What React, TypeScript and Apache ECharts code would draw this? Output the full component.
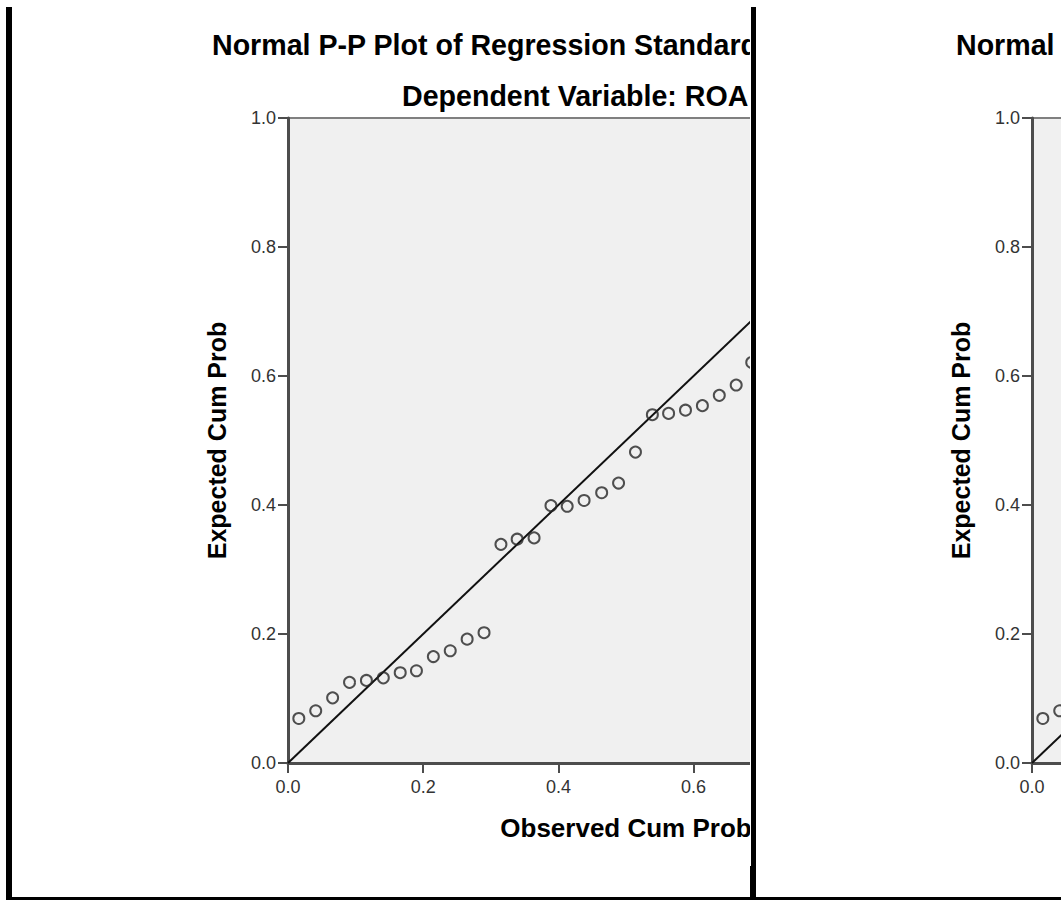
import React, { useEffect, useRef } from "react";
import * as echarts from "echarts";

// ---- Data ----
const observedCumProb = [
  0.016, 0.041, 0.066, 0.091, 0.116, 0.141, 0.166, 0.19, 0.215, 0.24, 0.265, 0.29,
  0.315, 0.339, 0.364, 0.389, 0.413, 0.438, 0.464, 0.489, 0.514, 0.539, 0.563, 0.588,
  0.613, 0.638, 0.663, 0.686,
];
const expectedCumProb = [
  0.069, 0.081, 0.101, 0.125, 0.128, 0.132, 0.14, 0.143, 0.165, 0.174, 0.192, 0.202,
  0.339, 0.347, 0.349, 0.399, 0.398, 0.407, 0.419, 0.434, 0.482, 0.54, 0.542, 0.547,
  0.554, 0.57, 0.586, 0.621,
];
const referenceLine = [
  [0, 0],
  [1, 1],
];
const axisMin = 0;
const axisMax = 1;
const axisInterval = 0.2;
const titleText = "Normal P-P Plot of Regression Standardized Residual";
const subtitleText = "Dependent Variable: ROA";
const xAxisName = "Observed Cum Prob";
const yAxisName = "Expected Cum Prob";

const FONT = '"Liberation Sans", Arial, Helvetica, sans-serif';

function buildOption(): any {
  const axisCommon = (
    name: string,
    nameSize: number,
    nameGap: number,
    labelMargin: number
  ) => ({
    type: "value",
    min: axisMin,
    max: axisMax,
    interval: axisInterval,
    name,
    nameLocation: "middle",
    nameGap,
    nameTextStyle: {
      fontFamily: FONT,
      fontSize: nameSize,
      fontWeight: "bold",
      color: "#000",
    },
    axisLine: { show: true, lineStyle: { color: "#4d4d4d", width: 3 } },
    axisTick: { show: true, length: 10, lineStyle: { color: "#4d4d4d", width: 2 } },
    axisLabel: {
      margin: labelMargin,
      fontFamily: FONT,
      fontSize: 18,
      color: "#333",
      formatter: (v: number) => v.toFixed(1),
    },
    splitLine: { show: false },
  });

  return {
    animation: false,
    backgroundColor: "#ffffff",
    textStyle: { fontFamily: FONT },
    graphic: [
      {
        type: "text",
        x: 212,
        y: 45,
        style: {
          text: titleText,
          fontFamily: FONT,
          fontSize: 28.6,
          fontWeight: "bold",
          fill: "#000",
          textAlign: "left",
          textVerticalAlign: "middle",
          align: "left",
          verticalAlign: "middle",
        },
      },
      {
        type: "text",
        x: 402,
        y: 96,
        style: {
          text: subtitleText,
          fontFamily: FONT,
          fontSize: 28.6,
          fontWeight: "bold",
          fill: "#000",
          textAlign: "left",
          textVerticalAlign: "middle",
          align: "left",
          verticalAlign: "middle",
        },
      },
    ],
    grid: {
      left: 288,
      top: 118,
      width: 676,
      height: 645,
      show: true,
      backgroundColor: "#F0F0F0",
      borderColor: "#808080",
      borderWidth: 2,
    },
    xAxis: axisCommon(xAxisName, 26, 52, 15),
    yAxis: axisCommon(yAxisName, 25, 59, 12),
    series: [
      {
        type: "line",
        data: referenceLine,
        symbol: "none",
        silent: true,
        lineStyle: { color: "#111", width: 2 },
        z: 2,
      },
      {
        type: "scatter",
        data: observedCumProb.map((x, i) => [x, expectedCumProb[i]]),
        symbol: "circle",
        symbolSize: 11,
        itemStyle: { color: "rgba(0,0,0,0)", borderColor: "#262626", borderWidth: 2 },
        z: 3,
      },
    ],
  };
}

function Chart() {
  const ref = useRef<HTMLDivElement>(null);
  useEffect(() => {
    if (!ref.current) return;
    const chart = echarts.init(ref.current, undefined, { renderer: "svg" });
    chart.setOption(buildOption());
    return () => chart.dispose();
  }, []);
  return (
    <div
      ref={ref}
      style={{ position: "absolute", left: -12, top: 0, width: 1000, height: 897 }}
    />
  );
}

function Panel({ left, width }: { left: number; width: number }) {
  return (
    <div
      style={{
        position: "absolute",
        left,
        top: 0,
        width,
        height: 897,
        overflow: "hidden",
        background: "#fff",
      }}
    >
      <Chart />
    </div>
  );
}

export default function App() {
  return (
    <div
      style={{
        position: "fixed",
        left: 0,
        top: 0,
        width: 1061,
        height: 900,
        background: "#fff",
        overflow: "hidden",
      }}
    >
      <Panel left={12} width={738} />
      <Panel left={756} width={305} />
      {/* black frame pieces */}
      <div style={{ position: "absolute", left: 6, top: 7, width: 6, height: 893, background: "#000" }} />
      <div style={{ position: "absolute", left: 751, top: 7, width: 5, height: 891, background: "#000" }} />
      <div style={{ position: "absolute", left: 750, top: 866, width: 6, height: 32, background: "#000" }} />
      <div style={{ position: "absolute", left: 6, top: 897, width: 1055, height: 3, background: "#000" }} />
    </div>
  );
}
